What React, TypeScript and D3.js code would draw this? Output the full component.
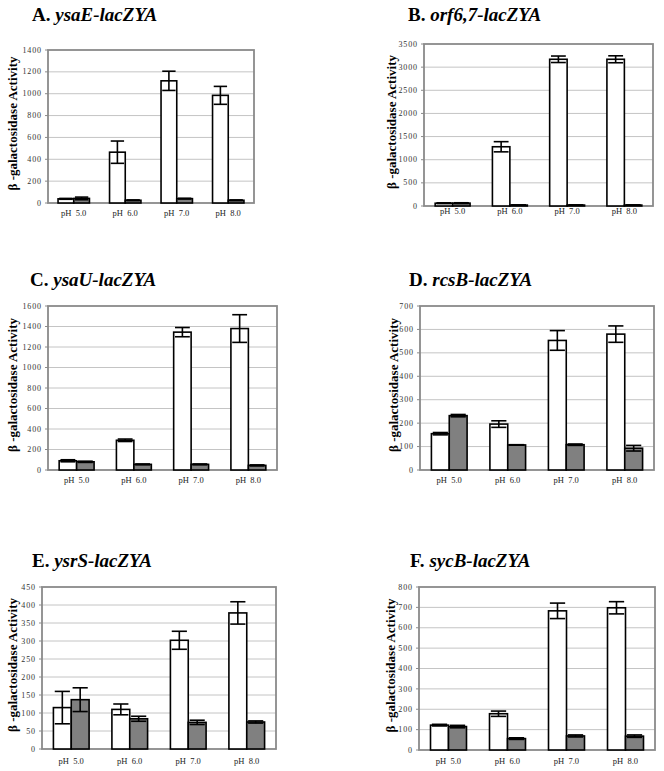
import React from "react";
import * as d3 from "d3";

const categories = ["pH  5.0", "pH  6.0", "pH  7.0", "pH  8.0"];

// Panel A: ysaE-lacZYA
const aWhite = [38, 465, 1118, 985];
const aWhiteErr = [4, 102, 88, 82];
const aGray = [42, 25, 40, 25];
const aGrayErr = [12, 3, 3, 3];
const aTicks = [0, 200, 400, 600, 800, 1000, 1200, 1400];

// Panel B: orf6,7-lacZYA
const bWhite = [60, 1280, 3170, 3170];
const bWhiteErr = [8, 110, 70, 75];
const bGray = [62, 20, 20, 20];
const bGrayErr = [8, 3, 3, 3];
const bTicks = [0, 500, 1000, 1500, 2000, 2500, 3000, 3500];

// Panel C: ysaU-lacZYA
const cWhite = [90, 290, 1345, 1380];
const cWhiteErr = [10, 12, 45, 135];
const cGray = [80, 55, 55, 45];
const cGrayErr = [6, 4, 4, 5];
const cTicks = [0, 200, 400, 600, 800, 1000, 1200, 1400, 1600];

// Panel D: rcsB-lacZYA
const dWhite = [155, 196, 553, 580];
const dWhiteErr = [5, 14, 42, 35];
const dGray = [232, 107, 108, 93];
const dGrayErr = [5, 1, 3, 12];
const dTicks = [0, 100, 200, 300, 400, 500, 600, 700];

// Panel E: ysrS-lacZYA
const eWhite = [115, 110, 302, 378];
const eWhiteErr = [45, 15, 25, 31];
const eGray = [137, 84, 74, 75];
const eGrayErr = [33, 7, 6, 3];
const eTicks = [0, 50, 100, 150, 200, 250, 300, 350, 400, 450];

// Panel F: sycB-lacZYA
const fWhite = [122, 178, 683, 698];
const fWhiteErr = [4, 13, 38, 30];
const fGray = [115, 56, 69, 68];
const fGrayErr = [6, 4, 5, 6];
const fTicks = [0, 100, 200, 300, 400, 500, 600, 700, 800];

type PanelProps = {
  letter: string;
  gene: string;
  white: number[];
  whiteErr: number[];
  gray: number[];
  grayErr: number[];
  ticks: number[];
  left: number;
  right: number;
  top: number;
  bottom: number;
  titleX: number;
  titleY: number;
  labelX: number;
  catY: number;
};

const SERIF = "'Liberation Serif', 'Times New Roman', serif";

function Panel(p: PanelProps) {
  const yMax = p.ticks[p.ticks.length - 1];
  const y = d3.scaleLinear().domain([0, yMax]).range([p.bottom, p.top]);
  const x = d3
    .scaleBand<string>()
    .domain(categories)
    .range([p.left, p.right])
    .paddingInner(0)
    .paddingOuter(0);
  const bw = x.bandwidth() * 0.305;
  const cap = bw * 0.85;

  const errBar = (cx: number, v: number, e: number, key: string) => (
    <g key={key} stroke="#000" strokeWidth={1.6}>
      <line x1={cx} x2={cx} y1={y(v + e)} y2={y(Math.max(0, v - e))} />
      <line x1={cx - cap / 2} x2={cx + cap / 2} y1={y(v + e)} y2={y(v + e)} />
      <line x1={cx - cap / 2} x2={cx + cap / 2} y1={y(Math.max(0, v - e))} y2={y(Math.max(0, v - e))} />
    </g>
  );

  return (
    <g>
      <text x={p.titleX} y={p.titleY} fontFamily={SERIF} fontWeight="bold" fontSize={19} fill="#000">
        {p.letter + ". "}
        <tspan fontStyle="italic">{p.gene}</tspan>
      </text>
      {p.ticks.slice(1, -1).map((t) => (
        <line key={"g" + t} x1={p.left} x2={p.right} y1={y(t)} y2={y(t)} stroke="#c4c4c4" strokeWidth={1} />
      ))}
      <rect x={p.left} y={p.top} width={p.right - p.left} height={p.bottom - p.top} fill="none" stroke="#8a8a8a" strokeWidth={1.8} />
      {p.ticks.map((t) => (
        <g key={"t" + t}>
          <line x1={p.left - 3} x2={p.left} y1={y(t)} y2={y(t)} stroke="#8a8a8a" strokeWidth={1} />
          <text
            x={p.left - 6}
            y={y(t)}
            dy="0.33em"
            textAnchor="end"
            fontFamily={SERIF}
            fontSize={8}
            letterSpacing={0.9}
            fill="#333"
          >
            {t}
          </text>
        </g>
      ))}
      <text
        transform={`translate(${p.labelX},${(p.top + p.bottom) / 2 - 3}) rotate(-90)`}
        textAnchor="middle"
        dy="0.35em"
        fontFamily={SERIF}
        fontWeight="bold"
        fontSize={13}
        fill="#000"
      >
        β -galactosidase Activity
      </text>
      {categories.map((c, i) => {
        const cx = (x(c) as number) + x.bandwidth() / 2;
        return (
          <g key={"b" + c}>
            <rect x={cx - bw} y={y(p.white[i])} width={bw} height={p.bottom - y(p.white[i])} fill="#fff" stroke="#000" strokeWidth={1.6} />
            <rect x={cx} y={y(p.gray[i])} width={bw} height={p.bottom - y(p.gray[i])} fill="#808080" stroke="#000" strokeWidth={1.6} />
            {errBar(cx - bw / 2, p.white[i], p.whiteErr[i], "ew")}
            {errBar(cx + bw / 2, p.gray[i], p.grayErr[i], "eg")}
            <text x={cx} y={p.catY} textAnchor="middle" fontFamily={SERIF} fontSize={8.5} fill="#222" style={{ whiteSpace: "pre" }}>
              {c}
            </text>
          </g>
        );
      })}
    </g>
  );
}

export default function App() {
  return (
    <svg
      width={664}
      height={771}
      viewBox="0 0 664 771"
      style={{ position: "absolute", left: 0, top: 0, background: "#fff" }}
    >
      <rect width={664} height={771} fill="#fff" />
      <Panel letter="A" gene="ysaE-lacZYA" white={aWhite} whiteErr={aWhiteErr} gray={aGray} grayErr={aGrayErr} ticks={aTicks}
        left={48} right={254} top={50} bottom={203} titleX={32} titleY={21} labelX={12.5} catY={216} />
      <Panel letter="B" gene="orf6,7-lacZYA" white={bWhite} whiteErr={bWhiteErr} gray={bGray} grayErr={bGrayErr} ticks={bTicks}
        left={424} right={653} top={44} bottom={206} titleX={408} titleY={21} labelX={391.5} catY={214} />
      <Panel letter="C" gene="ysaU-lacZYA" white={cWhite} whiteErr={cWhiteErr} gray={cGray} grayErr={cGrayErr} ticks={cTicks}
        left={48} right={277} top={306} bottom={470} titleX={30} titleY={286} labelX={12.5} catY={483} />
      <Panel letter="D" gene="rcsB-lacZYA" white={dWhite} whiteErr={dWhiteErr} gray={dGray} grayErr={dGrayErr} ticks={dTicks}
        left={420} right={654} top={306} bottom={470} titleX={409} titleY={286} labelX={393} catY={483} />
      <Panel letter="E" gene="ysrS-lacZYA" white={eWhite} whiteErr={eWhiteErr} gray={eGray} grayErr={eGrayErr} ticks={eTicks}
        left={42} right={276} top={587} bottom={749} titleX={32} titleY={567} labelX={12} catY={764} />
      <Panel letter="F" gene="sycB-lacZYA" white={fWhite} whiteErr={fWhiteErr} gray={fGray} grayErr={fGrayErr} ticks={fTicks}
        left={419} right={655} top={587} bottom={750} titleX={410} titleY={567} labelX={390.5} catY={764} />
    </svg>
  );
}
